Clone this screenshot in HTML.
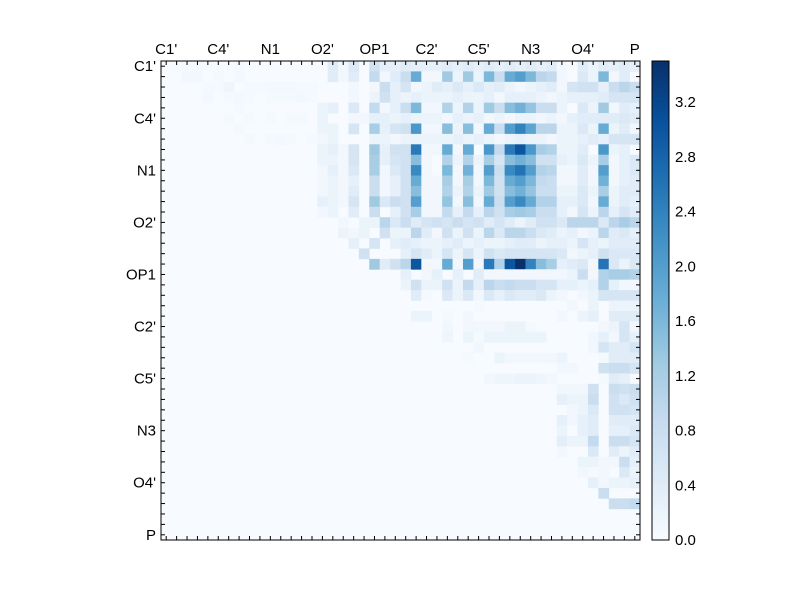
<!DOCTYPE html>
<html><head><meta charset="utf-8"><style>
html,body{margin:0;padding:0;background:#fff;}
svg text{font-family:"Liberation Sans",sans-serif;font-size:15px;fill:#000;}
</style></head><body>
<svg id="s" width="800" height="600" xmlns="http://www.w3.org/2000/svg">
<rect width="800" height="600" fill="#fff"/>
<defs><linearGradient id="cb" x1="0" y1="1" x2="0" y2="0">
<stop offset="0" stop-color="#f7fbff"/><stop offset="0.125" stop-color="#deebf7"/><stop offset="0.25" stop-color="#c6dbef"/><stop offset="0.375" stop-color="#9ecae1"/><stop offset="0.5" stop-color="#6baed6"/><stop offset="0.625" stop-color="#4292c6"/><stop offset="0.75" stop-color="#2171b5"/><stop offset="0.875" stop-color="#08519c"/><stop offset="1" stop-color="#08306b"/>
</linearGradient></defs>
<g id="cells"></g>
<g id="ax"></g>
<rect x="652" y="61" width="17" height="479" fill="url(#cb)" stroke="#000" stroke-width="1"/>
</svg>
<script>
var N=46,X0=161,Y0=61,W=479,cs=W/N,VMAX=3.5;
var M=[];for(var i=0;i<N;i++){M.push(new Array(N).fill(0));}
function row(r,c0,arr){for(var k=0;k<arr.length;k++)M[r][c0+k]=arr[k];}
row(0,23,[.4,.3,.3,.3,.4,.3,.4,.3,.4,.3,.4,.3,.4,.3,.4,.1,0,.4,.2,.4,.3,.4,.3]);
row(1,23,[.8,1.8,.1,.1,1.3,.2,1.3,.2,1.6,.8,1.8,2.0,1.6,1.0,.9,.1,0,.5,.2,1.6,.1,.4,0]);
row(2,23,[.6,.1,.2,.4,.3,.5,.3,.5,.3,.4,.2,.1,.2,.3,.4,.1,.6,.7,.7,.3,.8,1.0,.8]);
row(3,23,[.2,.3,.2,.2,.2,.3,.2,.2,.3,.1,.3,.3,.3,.2,.1,.2,.3,.3,.3,.4,.6,.6,.6]);
row(4,23,[.8,1.6,.1,.1,1.1,.2,1.1,.2,1.3,.8,1.5,1.7,1.4,.8,.8,.2,0,.5,.2,1.3,.1,.4,.3]);
row(5,23,[.3,.2,.2,.2,.1,.3,.2,.3,.1,.2,.1,.2,.2,.1,.2,.1,.3,.4,.4,.4,.4,.5,.4]);
row(6,23,[.7,2.1,.1,.1,1.5,.2,1.5,.1,1.8,.8,2.0,2.4,1.9,1.0,1.0,.2,.2,.5,.2,1.8,.2,.4,.1]);
row(7,23,[.2,.2,.2,.2,.2,.3,.2,.3,.2,.1,.2,.3,.2,.2,.1,.2,.2,.3,.4,.3,.6,.6,.6]);
row(8,23,[.7,2.5,.1,.1,1.8,.1,1.8,0,2.1,.9,2.5,3.0,2.1,1.2,1.1,.2,.2,.4,0,2.1,.2,.3,0]);
row(9,23,[.7,1.5,.1,0,1.1,.2,1.1,.2,1.2,.6,1.5,1.7,1.5,.7,.7,.3,.2,.5,.2,1.2,.1,.3,.5]);
row(10,23,[.7,2.3,.1,0,1.6,.1,1.7,.1,2.0,.8,2.3,2.6,2.0,1.1,1.0,.1,.1,.4,.1,2.0,.1,.3,.5]);
row(11,23,[.7,1.8,.1,.1,1.2,.1,1.2,.1,1.6,.7,1.8,2.0,1.6,.9,.8,.1,.1,.4,.1,1.7,.1,.3,.4]);
row(12,23,[.7,1.5,.1,.1,1.1,.2,1.1,.2,1.3,.7,1.5,1.7,1.4,.8,.8,.2,.2,.5,.2,1.2,.2,.4,.4]);
row(13,23,[.7,2.0,.1,.1,1.4,.1,1.5,.1,1.8,.8,2.0,2.3,1.8,1.1,1.1,.3,.3,.5,.1,1.8,.2,.4,.3]);
row(14,23,[.7,1.2,.1,.1,.9,.3,.9,.3,1.0,.7,1.2,1.3,1.2,.8,.8,.3,.1,.6,.2,1.0,.3,.6,.4]);
row(15,23,[.8,.4,.6,.7,.6,.8,.6,.7,.4,.6,.4,.2,.4,.7,.7,.5,1.0,1.0,1.0,.5,1.0,1.2,1.0]);
row(16,23,[.2,1.0,.4,.1,.7,.2,.7,.2,1.0,.5,1.0,1.0,.8,.5,.4,.2,.3,.1,.2,1.0,.4,.5,.3]);
row(17,23,[.4,.3,.2,.2,.3,.4,.2,.3,.2,.2,.3,.4,.4,.2,.3,.3,.2,.6,.3,.2,.4,.4,.4]);
row(18,23,[.3,.6,.4,.2,.6,.2,.6,.2,.7,.5,.6,.6,.6,.6,.6,.5,.1,.2,.3,.7,.5,.5,.5]);
row(19,23,[1.0,3.0,.1,.1,1.8,.1,2.0,.1,2.5,1.1,3.0,3.5,2.4,1.5,1.2,.3,.4,.5,.1,2.6,.5,.2,.5]);
row(20,23,[.3,0,.1,.3,0,.3,0,.4,.1,.1,.1,.1,.1,.1,.1,.1,.2,.8,.1,1.1,1.2,1.2,1.1]);
row(21,23,[.2,.7,.2,.2,.7,.2,.9,.3,1.0,.8,.9,.8,.8,.6,.6,.3,.3,.2,.3,1.1,.3,.1,.1]);
row(22,23,[0,.4,.05,0,.5,.2,.5,.1,.5,.3,.5,.4,.4,.5,.2,.1,0,.1,.2,.6,.6,.6,.6]);
row(23,23,[0,0,0,0,0,0,0,.05,0,0,0,0,0,0,0,0,.1,0,.2,0,.2,.2,.2]);
row(24,23,[0,.2,.2,0,.05,0,.1,0,0,0,0,0,0,0,0,.1,0,.2,.3,0,.4,.4,.4]);
row(25,23,[0,0,0,0,.1,0,.1,.1,.1,.1,.2,.2,.05,0,0,0,0,0,0,.1,.2,.6,.1]);
row(26,23,[0,0,0,0,.15,0,.2,.05,.2,.2,.2,.2,.2,.2,0,0,0,0,.1,.3,.1,.6,.3]);
row(27,23,[0,0,0,0,0,0,0,.1,0,0,0,0,0,0,0,0,0,0,.1,.6,.4,.4,.6]);
row(28,23,[0,0,0,0,0,0,.05,0,0,.2,.1,.1,.1,.1,.1,.2,0,0,0,.05,.4,.4,.4]);
row(29,23,[0,0,0,0,0,0,0,0,0,0,0,0,0,0,0,.1,.1,0,0,.7,.8,.8,.6]);
row(30,23,[0,0,0,0,0,0,0,0,.1,.15,.15,.2,.2,.15,.1,0,0,0,0,.05,.4,.3,0]);
row(31,23,[0,0,0,0,0,0,0,0,0,0,0,0,0,0,0,.1,.1,.1,.7,0,.8,.7,.8]);
row(32,23,[0,0,0,0,0,0,0,0,0,0,0,0,0,0,0,.3,.2,.2,.8,0,.7,.5,.7]);
row(33,23,[0,0,0,0,0,0,0,0,0,0,0,0,0,0,0,0,.1,.2,.5,0,.7,.7,.6]);
row(34,23,[0,0,0,0,0,0,0,0,0,0,0,0,0,0,0,.3,.1,.3,.4,0,.4,.4,.4]);
row(35,23,[0,0,0,0,0,0,0,0,0,0,0,0,0,0,0,.2,0,.3,.4,0,.3,.3,.5]);
row(36,23,[0,0,0,0,0,0,0,0,0,0,0,0,0,0,0,.35,.2,.2,.9,0,.8,.8,.6]);
row(37,23,[0,0,0,0,0,0,0,0,0,0,0,0,0,0,0,.1,0,0,.5,0,.4,.2,.4]);
row(38,23,[0,0,0,0,0,0,0,0,0,0,0,0,0,0,0,0,0,.2,.2,.1,.1,.8,.3]);
row(39,23,[0,0,0,0,0,0,0,0,0,0,0,0,0,0,0,0,0,.1,.05,.1,0,.5,.2]);
row(40,23,[0,0,0,0,0,0,0,0,0,0,0,0,0,0,0,0,0,0,.3,.1,.2,.2,.3]);
M[41][42]=.8;M[42][43]=.8;M[42][44]=.8;M[42][45]=.9;
var L={1:[0,.4,.1,.4,0,.9,.1,.4],2:[0,0,0,.1,0,.1,.8,.3],3:[0,0,0,.1,0,.2,.7,.3],4:[.2,.3,0,.5,0,.9,.1,.3],5:[.2,0,0,.1,.1,.3,.3,.2],
6:[.2,.2,0,.6,0,1.2,.3,.6],7:[.1,.2,0,0,0,.2,.2,.1],8:[.2,.3,.1,.6,0,1.3,.3,.7],9:[.2,.2,.1,.6,0,1.2,.3,.6],10:[.1,.3,.1,.5,0,1.2,.1,.5],
11:[.1,.2,.1,.3,0,.8,.1,.3],12:[.1,.2,.1,.4,0,.8,.1,.3],13:[.3,.2,.1,.6,0,1.3,.5,.8],14:[.1,.2,0,.4,0,.8,0,.3],15:[0,0,.1,0,.2,.2,1.0,.5],
16:[0,0,.2,.1,.2,0,.7,.2],17:[0,0,0,.3,0,.6,0,.3],18:[0,0,0,0,.7,0,0,0],19:[0,0,0,0,0,1.3,.4,.7]};
for(var r in L)row(+r,15,L[r]);
row(0,16,[.4,.1,.5,0,.7,.3,.3]);
[[1,2,.1],[1,3,.1],[1,5,.05],[1,7,.08],[2,4,.05],[2,5,.06],[2,6,.15],[2,8,.05],[2,9,.05],[2,10,.08],[2,11,.08],[2,12,.08],[2,13,.06],[2,14,.06],
[3,4,.08],[3,6,.05],[3,7,.08],[3,8,.06],[3,10,.05],[3,11,.06],[3,12,.05],[3,13,.08],[3,14,.06],[4,7,.05],[5,6,.05],[5,8,.06],[5,10,.05],[5,12,.05],[5,13,.05],
[6,7,.05],[7,8,.05],[7,10,.05],[7,11,.08],[7,12,.06],[7,14,.05],[0,1,.03],[0,2,.03],[0,3,.05],[0,4,.03],[0,7,.05]].forEach(function(a){M[a[0]][a[1]]=a[2];});
var stops=[[247,251,255],[222,235,247],[198,219,239],[158,202,225],[107,174,214],[66,146,198],[33,113,181],[8,81,156],[8,48,107]];
function col(v){var t=Math.max(0,Math.min(1,v/VMAX))*8;var i=Math.min(7,Math.floor(t)),f=t-i;var a=stops[i],b=stops[i+1];
return 'rgb('+a.map(function(x,k){return Math.round(x+(b[k]-x)*f)}).join(',')+')';}
var g=document.getElementById('cells'),h='';
h+='<rect x="'+X0+'" y="'+Y0+'" width="'+W+'" height="'+W+'" fill="#f7fbff"/>';
for(var r=0;r<N;r++)for(var c=0;c<N;c++){if(M[r][c]>0){var x=X0+c*cs,y=Y0+r*cs;
h+='<rect x="'+x.toFixed(2)+'" y="'+y.toFixed(2)+'" width="'+(cs+0.4).toFixed(2)+'" height="'+(cs+0.4).toFixed(2)+'" fill="'+col(M[r][c])+'"/>';}}
g.innerHTML=h;
var a='<rect x="'+X0+'" y="'+Y0+'" width="'+W+'" height="'+W+'" fill="none" stroke="#000" stroke-width="1"/>';
var labs=["C1'","C4'","N1","O2'","OP1","C2'","C5'","N3","O4'","P"];
for(var i=0;i<N;i++){var p=X0+(i+0.5)*cs;
a+='<line x1="'+p+'" y1="'+Y0+'" x2="'+p+'" y2="'+(Y0+4)+'" stroke="#000"/>';
a+='<line x1="'+p+'" y1="'+(Y0+W)+'" x2="'+p+'" y2="'+(Y0+W-4)+'" stroke="#000"/>';
var q=Y0+(i+0.5)*cs;
a+='<line x1="'+X0+'" y1="'+q+'" x2="'+(X0+4)+'" y2="'+q+'" stroke="#000"/>';
a+='<line x1="'+(X0+W)+'" y1="'+q+'" x2="'+(X0+W-4)+'" y2="'+q+'" stroke="#000"/>';
if(i%5==0){var l=labs[i/5];
a+='<text x="'+p+'" y="54" text-anchor="middle">'+l+'</text>';
a+='<text x="156" y="'+(q+5)+'" text-anchor="end">'+l+'</text>';}}
for(var k=0;k<=8;k++){var v=k*0.4,y=540-v/VMAX*479;
a+='<line x1="652" y1="'+y+'" x2="656" y2="'+y+'" stroke="#000"/><line x1="669" y1="'+y+'" x2="665" y2="'+y+'" stroke="#000"/>';
a+='<text x="675" y="'+(y+5)+'">'+v.toFixed(1)+'</text>';}
document.getElementById('ax').innerHTML=a;
</script>
</body></html>
